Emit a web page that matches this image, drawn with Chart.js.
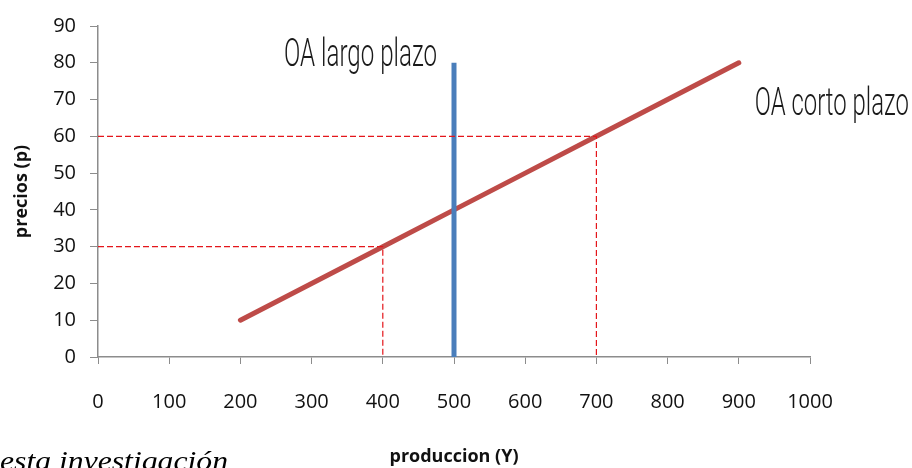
<!DOCTYPE html>
<html>
<head>
<meta charset="utf-8">
<script src="https://cdn.jsdelivr.net/npm/chart.js@4/dist/chart.umd.min.js"></script>
<style>
  html, body { margin: 0; padding: 0; background: #fff; }
  #wrap { position: relative; width: 912px; height: 468px; overflow: hidden; }
</style>
</head>
<body>
<div id="wrap"><canvas id="ofertaChart" width="912" height="468"></canvas></div>
<script>
// oferta agregada de corto plazo (precio vs produccion)
const cortoX = [200, 300, 400, 500, 600, 700, 800, 900];
const cortoY = [10, 20, 30, 40, 50, 60, 70, 80];
// oferta agregada de largo plazo (vertical en el producto potencial)
const largoX = [500, 500];
const largoY = [0, 80];
// puntos de referencia marcados con lineas punteadas
const refX = [400, 700];
const refY = [30, 60];

const tickFont = { family: "'Open Sans', 'Noto Sans', sans-serif", size: 20 };
const titleFont = { family: "'Open Sans', 'Noto Sans', sans-serif", size: 18, weight: 'bold' };
const axisGray = '#8c8c8c';

const guides = refX.map(function (x, i) {
  return {
    data: [{ x: 0, y: refY[i] }, { x: x, y: refY[i] }, { x: x, y: 0 }],
    borderColor: '#e4161b',
    borderWidth: 1.2,
    borderDash: [6, 3],
    pointRadius: 0,
    showLine: true,
    fill: false
  };
});

const labelPlugin = {
  id: 'curveLabels',
  afterDatasetsDraw: function (chart) {
    const ctx = chart.ctx;
    const xs = chart.scales.x;
    const ys = chart.scales.y;
    function narrow(text, x, y, width, align) {
      ctx.save();
      ctx.font = "300 38px 'Roboto', 'DejaVu Sans', sans-serif";
      ctx.fillStyle = '#1a1a1a';
      ctx.textBaseline = 'alphabetic';
      const w = ctx.measureText(text).width;
      const k = width / w;
      const left = align === 'right' ? x - width : x;
      ctx.translate(left, y);
      ctx.scale(k, 1);
      ctx.fillText(text, 0, 0);
      ctx.restore();
    }
    narrow('OA largo plazo', xs.getPixelForValue(largoX[1]) - 17, ys.getPixelForValue(79.2), 153, 'right');
    narrow('OA corto plazo', xs.getPixelForValue(cortoX[cortoX.length - 1]) + 16, ys.getPixelForValue(65.8), 154, 'left');

    ctx.save();
    ctx.font = "italic 28px 'Liberation Serif', 'DejaVu Serif', serif";
    ctx.fillStyle = '#000';
    const src = 'esta investigación';
    const sw = ctx.measureText(src).width;
    ctx.translate(0, 470);
    ctx.scale(228 / sw, 1);
    ctx.fillText(src, 0, 0);
    ctx.restore();
  }
};

new Chart(document.getElementById('ofertaChart').getContext('2d'), {
  type: 'scatter',
  data: {
    datasets: guides.concat([
      {
        label: 'OA largo plazo',
        data: largoX.map(function (x, i) { return { x: x, y: largoY[i] }; }),
        borderColor: '#4a7ebb',
        borderWidth: 5,
        borderCapStyle: 'butt',
        pointRadius: 0,
        showLine: true
      },
      {
        label: 'OA corto plazo',
        data: cortoX.map(function (x, i) { return { x: x, y: cortoY[i] }; }),
        borderColor: '#be4b48',
        borderWidth: 5,
        borderCapStyle: 'round',
        pointRadius: 0,
        showLine: true
      }
    ])
  },
  options: {
    responsive: false,
    animation: false,
    layout: { padding: { top: 22, right: 102, left: 0, bottom: 0 } },
    plugins: {
      legend: { display: false },
      tooltip: { enabled: false }
    },
    scales: {
      x: {
        type: 'linear',
        min: 0,
        max: 1000,
        afterFit: function (s) { s.height = 111; },
        ticks: {
          stepSize: 100, color: '#111', font: tickFont, padding: 26,
          callback: function (value) { return String(value); }
        },
        grid: { drawOnChartArea: false, drawTicks: true, tickLength: 7, color: axisGray },
        border: { color: axisGray, width: 1.5 },
        title: { display: true, text: 'produccion (Y)', color: '#111', font: titleFont, padding: { top: 28, bottom: 0 } }
      },
      y: {
        min: 0,
        max: 90,
        afterFit: function (s) { s.width = 98; },
        ticks: { stepSize: 10, color: '#111', font: tickFont, padding: 14 },
        grid: { drawOnChartArea: false, drawTicks: true, tickLength: 8, color: axisGray },
        border: { color: axisGray, width: 1.5 },
        title: { display: true, text: 'precios (p)', color: '#111', font: titleFont, padding: { top: 11, bottom: 0 } }
      }
    }
  },
  plugins: [labelPlugin]
});
</script>
</body>
</html>
